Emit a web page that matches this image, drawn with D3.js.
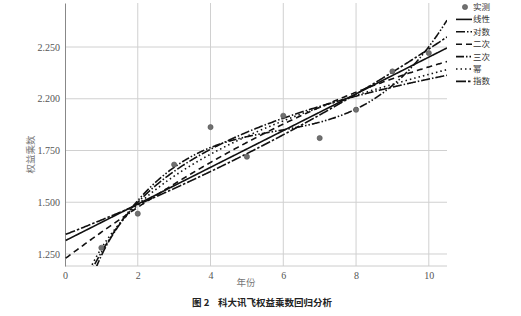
<!DOCTYPE html>
<html><head><meta charset="utf-8">
<script src="https://cdn.jsdelivr.net/npm/d3@7"></script>
<style>
html,body{margin:0;padding:0;background:#fff;}
svg{display:block;}
</style></head>
<body>
<svg id="c" width="521" height="316"></svg>
<script>
// ---- data ----
const years = [1, 2, 3, 4, 5, 6, 7, 8, 9, 10];
const observed = [1.28, 1.445, 1.682, 1.863, 1.72, 1.918, 1.81, 1.947, 2.132, 2.221];
const xTicks = [0, 2, 4, 6, 8, 10];
const yTickValues = [1.25, 1.5, 1.75, 2.0, 2.25];
const yTickLabels = ["1.250", "1.500", "1.750", "2.200", "2.250"];
const legendLabels = ["实测", "线性", "对数", "二次", "三次", "幂", "指数"];
const xTitle = "年份";
const yTitle = "权益乘数";
const caption = "图 2    科大讯飞权益乘数回归分析";

// ---- least squares fits (as in curve estimation) ----
function solve(A, b) {
  const n = A.length, M = A.map((r, i) => r.concat([b[i]]));
  for (let i = 0; i < n; i++) {
    let p = i;
    for (let k = i + 1; k < n; k++) if (Math.abs(M[k][i]) > Math.abs(M[p][i])) p = k;
    [M[i], M[p]] = [M[p], M[i]];
    for (let k = i + 1; k < n; k++) {
      const f = M[k][i] / M[i][i];
      for (let j = i; j <= n; j++) M[k][j] -= f * M[i][j];
    }
  }
  const x = new Array(n).fill(0);
  for (let i = n - 1; i >= 0; i--) {
    let s = M[i][n];
    for (let j = i + 1; j < n; j++) s -= M[i][j] * x[j];
    x[i] = s / M[i][i];
  }
  return x;
}
function fit(features, ys) {
  const p = features[0].length;
  const A = Array.from({length: p}, () => new Array(p).fill(0));
  const b = new Array(p).fill(0);
  features.forEach((f, r) => {
    for (let i = 0; i < p; i++) {
      b[i] += f[i] * ys[r];
      for (let j = 0; j < p; j++) A[i][j] += f[i] * f[j];
    }
  });
  return solve(A, b);
}
const lnY = observed.map(Math.log);
const cLin = fit(years.map(x => [1, x]), observed);
const cLog = fit(years.map(x => [1, Math.log(x)]), observed);
const cQuad = fit(years.map(x => [1, x, x * x]), observed);
const cCub = fit(years.map(x => [1, x, x * x, x * x * x]), observed);
const cPow = fit(years.map(x => [1, Math.log(x)]), lnY);
const cExp = fit(years.map(x => [1, x]), lnY);

const models = [
  {f: x => cLin[0] + cLin[1] * x, dash: null},
  {f: x => cLog[0] + cLog[1] * Math.log(x), dash: "9,2,1.5,2"},
  {f: x => cQuad[0] + cQuad[1] * x + cQuad[2] * x * x, dash: "6,4"},
  {f: x => cCub[0] + cCub[1] * x + cCub[2] * x * x + cCub[3] * x * x * x, dash: "8,2,1.5,2,1.5,2"},
  {f: x => Math.exp(cPow[0]) * Math.pow(x, cPow[1]), dash: "1.5,3"},
  {f: x => Math.exp(cExp[0] + cExp[1] * x), dash: "10,2,2.5,2"}
];

// ---- layout ----
const svg = d3.select("#c");
const L = 65, R = 447, T = 3, B = 266;
const x = d3.scaleLinear().domain([0, 10.5]).range([L, R]);
const y = d3.scaleLinear().domain([1.192, 2.4626]).range([B, T]);

// grid
svg.append("g").selectAll("line").data(yTickValues).join("line")
  .attr("x1", L).attr("x2", R).attr("y1", d => y(d)).attr("y2", d => y(d))
  .attr("stroke", "#d0d0d0").attr("stroke-width", 1);
svg.append("g").selectAll("line").data(xTicks.filter(d => d > 0)).join("line")
  .attr("x1", d => x(d)).attr("x2", d => x(d)).attr("y1", T).attr("y2", B)
  .attr("stroke", "#d0d0d0").attr("stroke-width", 1);

// axes
const ax = svg.append("g").attr("transform", `translate(0,${B})`)
  .call(d3.axisBottom(x).tickValues(xTicks).tickSize(0).tickPadding(6));
const ay = svg.append("g").attr("transform", `translate(${L},0)`)
  .call(d3.axisLeft(y).tickValues(yTickValues).tickSize(0).tickPadding(5)
    .tickFormat((d, i) => yTickLabels[i]));
[ax, ay].forEach(g => {
  g.select(".domain").attr("stroke", "#888").attr("stroke-width", 1);
  g.selectAll("text").attr("font-family", "Liberation Serif, DejaVu Serif, serif")
    .attr("font-size", 10).attr("fill", "#555");
});
ax.select(".domain").attr("d", `M${L},0H${R}`).attr("stroke", "#ccc");

// clip
svg.append("clipPath").attr("id", "clip").append("rect")
  .attr("x", L).attr("y", T).attr("width", R - L).attr("height", B - T);

// curves
const xs = d3.range(0.02, 10.5001, 0.02);
const line = d3.line().x(d => x(d[0])).y(d => y(d[1]));
const cg = svg.append("g").attr("clip-path", "url(#clip)");
models.forEach(m => {
  cg.append("path").datum(xs.map(v => [v, m.f(v)]))
    .attr("d", line).attr("fill", "none").attr("stroke", "#111")
    .attr("stroke-width", 1.6)
    .attr("stroke-dasharray", m.dash);
});

// points
svg.append("g").selectAll("circle").data(years).join("circle")
  .attr("cx", d => x(d)).attr("cy", (d, i) => y(observed[i])).attr("r", 2.6)
  .attr("fill", "#707070").attr("stroke", "#555").attr("stroke-width", 0.6);

// legend
const lg = svg.append("g");
legendLabels.forEach((lab, i) => {
  const yy = 7 + i * 12.4;
  if (i === 0) {
    lg.append("circle").attr("cx", 465).attr("cy", yy).attr("r", 2.6)
      .attr("fill", "#707070").attr("stroke", "#555").attr("stroke-width", 0.6);
  } else {
    lg.append("line").attr("x1", 456).attr("x2", 472).attr("y1", yy).attr("y2", yy)
      .attr("stroke", "#111").attr("stroke-width", 1.6)
      .attr("stroke-dasharray", models[i - 1].dash);
  }
  lg.append("text").attr("x", 473).attr("y", yy).attr("dy", "0.35em")
    .attr("font-family", "Noto Sans CJK SC, sans-serif").attr("font-size", 8.5)
    .attr("fill", "#333").text(lab);
});

// titles
svg.append("text").attr("x", (L + R) / 2 - 10).attr("y", 286).attr("text-anchor", "middle")
  .attr("font-family", "Noto Sans CJK SC, sans-serif").attr("font-size", 9.5).attr("fill", "#777")
  .text(xTitle);
svg.append("text").attr("transform", `translate(34,${(T + B) / 2 + 20}) rotate(-90)`)
  .attr("text-anchor", "middle")
  .attr("font-family", "Noto Sans CJK SC, sans-serif").attr("font-size", 9.5).attr("fill", "#777")
  .text(yTitle);
svg.append("text").attr("x", 262).attr("y", 306).attr("text-anchor", "middle")
  .attr("font-family", "Noto Sans CJK SC, sans-serif").attr("font-size", 9.5)
  .attr("font-weight", "bold").attr("fill", "#222")
  .attr("xml:space", "preserve").style("white-space", "pre")
  .text(caption);
</script>
</body></html>
